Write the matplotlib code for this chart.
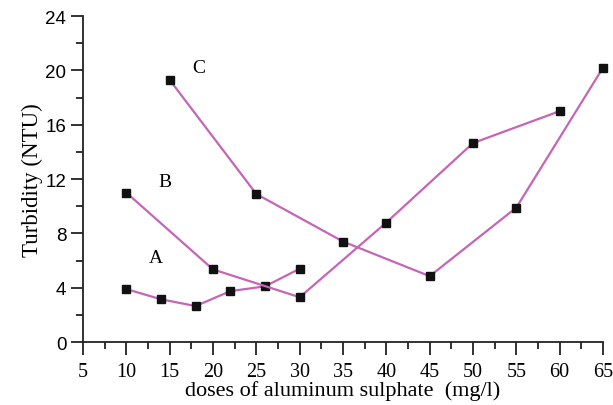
import matplotlib.pyplot as plt
from matplotlib.ticker import MultipleLocator

# dose (mg/l) and turbidity (NTU) for each series
dose_a = [10, 14, 18, 22, 26, 30]
turb_a = [3.9, 3.15, 2.65, 3.75, 4.1, 5.4]

dose_b = [10, 20, 30, 40, 50, 60]
turb_b = [11.0, 5.35, 3.3, 8.8, 14.65, 17.0]

dose_c = [15, 25, 35, 45, 55, 65]
turb_c = [19.3, 10.9, 7.4, 4.85, 9.9, 20.2]

labels = ['A', 'B', 'C']
label_pos = [(13.4, 6.2), (14.5, 11.8), (18.3, 20.2)]

line_color = '#c565b6'
serif = 'Liberation Serif'
sans = 'Liberation Sans'

fig = plt.figure(figsize=(6.13, 4.06), dpi=100)
ax = fig.add_axes([0.1354, 0.155, 0.8483, 0.803])

for xs, ys in [(dose_a, turb_a), (dose_b, turb_b), (dose_c, turb_c)]:
    ax.plot(xs, ys, color=line_color, lw=1.6, marker='s', markersize=6.2,
            markerfacecolor='#111111', markeredgecolor='#111111', clip_on=False)

for lab, (lx, ly) in zip(labels, label_pos):
    ax.text(lx, ly, lab, fontsize=14, family=serif, ha='center', va='center')

ax.set_xlim(5, 65)
ax.set_ylim(0, 24)
ax.xaxis.set_major_locator(MultipleLocator(5))
ax.xaxis.set_minor_locator(MultipleLocator(2.5))
ax.yaxis.set_major_locator(MultipleLocator(4))
ax.yaxis.set_minor_locator(MultipleLocator(2))

for s in ['top', 'right']:
    ax.spines[s].set_visible(False)
for s in ['left', 'bottom']:
    ax.spines[s].set_linewidth(1.3)
    ax.spines[s].set_color('#222222')

ax.tick_params(which='major', direction='out', length=9, width=1.3, color='#222222')
ax.tick_params(which='minor', direction='out', length=5, width=1.3, color='#222222')
ax.tick_params(axis='x', pad=5)
ax.tick_params(axis='y', pad=3)

for t in ax.get_xticklabels():
    t.set_family(serif)
    t.set_fontsize(14.5)
for t in ax.get_yticklabels():
    t.set_family(sans)
    t.set_fontsize(13.5)

ax.set_xlabel('doses of aluminum sulphate  (mg/l)', family=serif, fontsize=16, labelpad=0)
ax.set_ylabel('Turbidity (NTU)', family=serif, fontsize=16.5, labelpad=2)

fig.savefig('out.png', dpi=100)
